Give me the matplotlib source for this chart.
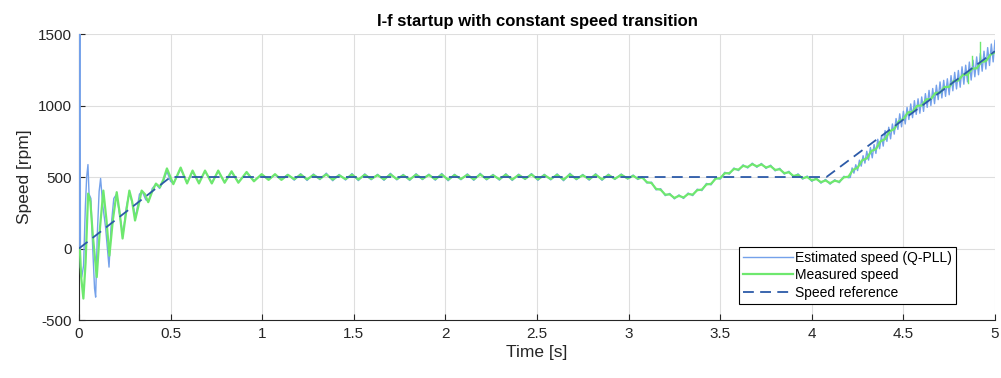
import numpy as np
import matplotlib
matplotlib.use("Agg")
import matplotlib.pyplot as plt

plt.rcParams['font.family'] = ['Liberation Sans', 'DejaVu Sans']
plt.rcParams['axes.unicode_minus'] = False

# speed reference (rpm)
ref_t = [0.0, 0.5, 4.08, 5.0]
ref_v = [0, 500, 500, 1380]

# measured speed, start-up part (irregular samples)
green_t_a = [0.0, 0.005, 0.012, 0.024, 0.036, 0.05, 0.062, 0.075, 0.097, 0.115, 0.133, 0.15,
             0.166, 0.185, 0.206, 0.222, 0.238, 0.257, 0.275, 0.29, 0.306, 0.325, 0.342, 0.36,
             0.378, 0.40, 0.42, 0.442, 0.46, 0.48, 0.515, 0.555, 0.59, 0.62, 0.655, 0.688,
             0.725, 0.76, 0.795, 0.833, 0.87, 0.915, 0.955, 0.997, 1.035, 1.07, 1.105, 1.14]
green_a = [0, -14, -200, -350, -100, 384, 330, 100, -200, 150, 405, 200,
           -50, 200, 394, 250, 70, 250, 405, 330, 196, 300, 405, 380,
           324, 400, 454, 429, 480, 560, 450, 566, 455, 545, 455, 545,
           455, 545, 460, 540, 460, 535, 470, 520, 480, 520, 480, 515]

# measured speed, steady part: every 0.035 s from 1.175 s
green_b = [485, 517, 484, 514, 488, 518, 482, 512, 486, 516,
           483, 515, 487, 513, 484, 518, 486, 512, 483, 516,
           488, 514, 485, 517, 482, 513, 487, 515, 484, 518,
           486, 512, 485, 516, 483, 514, 488, 517, 484, 513,
           486, 515, 482, 518, 487, 512, 485, 516, 484, 514,
           488, 515, 490]

# measured speed, transition + ramp: every 0.025 s from 3.025 s
green_c = [508, 489, 496, 464, 458, 417, 411, 377, 378, 354,
           368, 357, 381, 377, 408, 412, 448, 452, 488, 492,
           526, 527, 556, 552, 578, 570, 590, 575, 588, 567,
           576, 550, 554, 527, 533, 507, 515, 492, 500, 477,
           486, 464, 476, 457, 474, 467, 498, 502, 550, 565,
           617, 630, 682, 695, 750, 765, 820, 835, 890, 905,
           952, 955, 998, 1000, 1043, 1045, 1088, 1090, 1130, 1130,
           1172, 1175, 1215, 1215, 1258, 1260, 1305, 1310, 1355, 1372]

# short spikes on measured speed near the end
spike_t = [4.85, 4.875, 4.92]
spike_lo = [1155, 1280, 1300]
spike_hi = [1230, 1345, 1445]

# estimated speed (Q-PLL), start-up part
blue_t_a = [0.0, 0.003, 0.006, 0.008, 0.015, 0.025, 0.035, 0.042, 0.049, 0.055, 0.065, 0.075,
            0.085, 0.091, 0.1, 0.11, 0.118, 0.13, 0.145, 0.164, 0.175, 0.19, 0.205, 0.22,
            0.24, 0.26, 0.275, 0.295, 0.31, 0.33, 0.345, 0.365, 0.38, 0.4, 0.42, 0.44,
            0.46, 0.48, 0.5, 0.515, 0.555, 0.59, 0.62, 0.655, 0.688, 0.725, 0.76, 0.795,
            0.833, 0.87, 0.915, 0.955, 0.997, 1.035, 1.07, 1.105, 1.14]
blue_a = [0, 1650, 1650, -130, -200, -120, 300, 500, 587, 380, 350, 0,
          -280, -340, 100, 400, 490, 300, 150, -130, 150, 350, 380, 250,
          100, 300, 390, 300, 220, 380, 400, 340, 330, 420, 450, 420,
          470, 540, 470, 455, 555, 460, 535, 462, 540, 460, 538, 466,
          532, 466, 528, 474, 516, 484, 514, 484, 518]

# estimated speed, steady part: every 0.035 s from 1.175 s
blue_b = [478, 523, 476, 521, 482, 527, 474, 518, 479, 524,
          475, 522, 481, 519, 477, 526, 480, 518, 476, 523,
          482, 520, 478, 525, 474, 519, 481, 522, 477, 526,
          480, 518, 478, 523, 476, 520, 483, 524, 477, 519,
          480, 522, 474, 526, 481, 518, 478, 523, 477, 520,
          483, 521, 486]

# estimated speed, transition: every 0.025 s from 3.025 s to 4.2 s
blue_c = [514, 483, 502, 458, 464, 410, 418, 370, 385, 347,
          375, 350, 388, 370, 415, 405, 455, 445, 495, 485,
          533, 520, 563, 545, 585, 563, 597, 568, 595, 560,
          583, 543, 561, 520, 540, 500, 522, 485, 507, 470,
          493, 457, 483, 450, 481, 460, 505, 495]

# estimated speed, ramp: every 0.01 s from 4.21 s
blue_d = [497, 564, 527, 586, 545, 618, 576, 649, 597,
          680, 618, 706, 634, 727, 665, 764, 698, 787, 716,
          825, 749, 848, 767, 871, 800, 909, 833, 942, 851,
          960, 871, 987, 902, 1011, 915, 1034, 938, 1047, 946,
          1060, 959, 1083, 987, 1106, 1000, 1119, 1013, 1142, 1041,
          1165, 1053, 1176, 1064, 1187, 1075, 1209, 1103, 1232, 1116,
          1245, 1128, 1271, 1149, 1282, 1165, 1304, 1178, 1317, 1201,
          1340, 1215, 1365, 1240, 1380, 1255, 1405, 1280, 1430, 1305,
          1455]

t_b = 1.175 + 0.035 * np.arange(len(green_b))
t_c = 3.025 + 0.025 * np.arange(len(green_c))
t_d = 4.21 + 0.01 * np.arange(len(blue_d))

green_t = np.concatenate([green_t_a, t_b, t_c])
green_v = np.concatenate([green_a, green_b, green_c])
blue_t = np.concatenate([blue_t_a, t_b, t_c[:len(blue_c)], t_d])
blue_v = np.concatenate([blue_a, blue_b, blue_c, blue_d])

c_blue = '#74a1ea'
c_green = '#6ee86e'
c_ref = '#2c5aa8'
c_ax = '#262626'

fig = plt.figure(figsize=(10.01, 3.78), dpi=100)
ax = fig.add_axes([0.0789, 0.1534, 0.9151, 0.7566])

ax.plot(blue_t, blue_v, color=c_blue, lw=1.0, label='Estimated speed (Q-PLL)', zorder=3)
ax.plot(green_t, green_v, color=c_green, lw=1.6, label='Measured speed', zorder=4)
for st, lo, hi in zip(spike_t, spike_lo, spike_hi):
    ax.plot([st, st], [lo, hi], color=c_green, lw=1.0, zorder=4)
ax.plot(ref_t, ref_v, color=c_ref, lw=1.3, dashes=(6, 3.5), label='Speed reference', zorder=5)

ax.set_xlim(0, 5)
ax.set_ylim(-500, 1500)
ax.set_xticks(np.arange(0, 5.01, 0.5))
ax.set_xticklabels(['0', '0.5', '1', '1.5', '2', '2.5', '3', '3.5', '4', '4.5', '5'])
ax.set_yticks([-500, 0, 500, 1000, 1500])
ax.grid(True, color='#dedede', lw=0.8)
ax.set_axisbelow(True)
for s in ['top', 'right']:
    ax.spines[s].set_visible(False)
for s in ['left', 'bottom']:
    ax.spines[s].set_color(c_ax)
    ax.spines[s].set_linewidth(0.8)
ax.tick_params(direction='in', length=4, width=0.8, colors=c_ax, labelsize=11, pad=5)

ax.set_title('I-f startup with constant speed transition', fontsize=12, fontweight='bold', pad=6)
ax.set_xlabel('Time [s]', fontsize=12.5, color=c_ax, labelpad=3)
ax.set_ylabel('Speed [rpm]', fontsize=12.5, color=c_ax, labelpad=4)

leg = ax.legend(loc='lower right', bbox_to_anchor=(0.957, 0.056), fontsize=10,
                frameon=True, fancybox=False, edgecolor='black', framealpha=1,
                handlelength=3.6, handletextpad=0.1, borderpad=0.3, labelspacing=0.25,
                borderaxespad=0)
leg.get_frame().set_linewidth(0.8)

fig.savefig('out.png', dpi=100)
